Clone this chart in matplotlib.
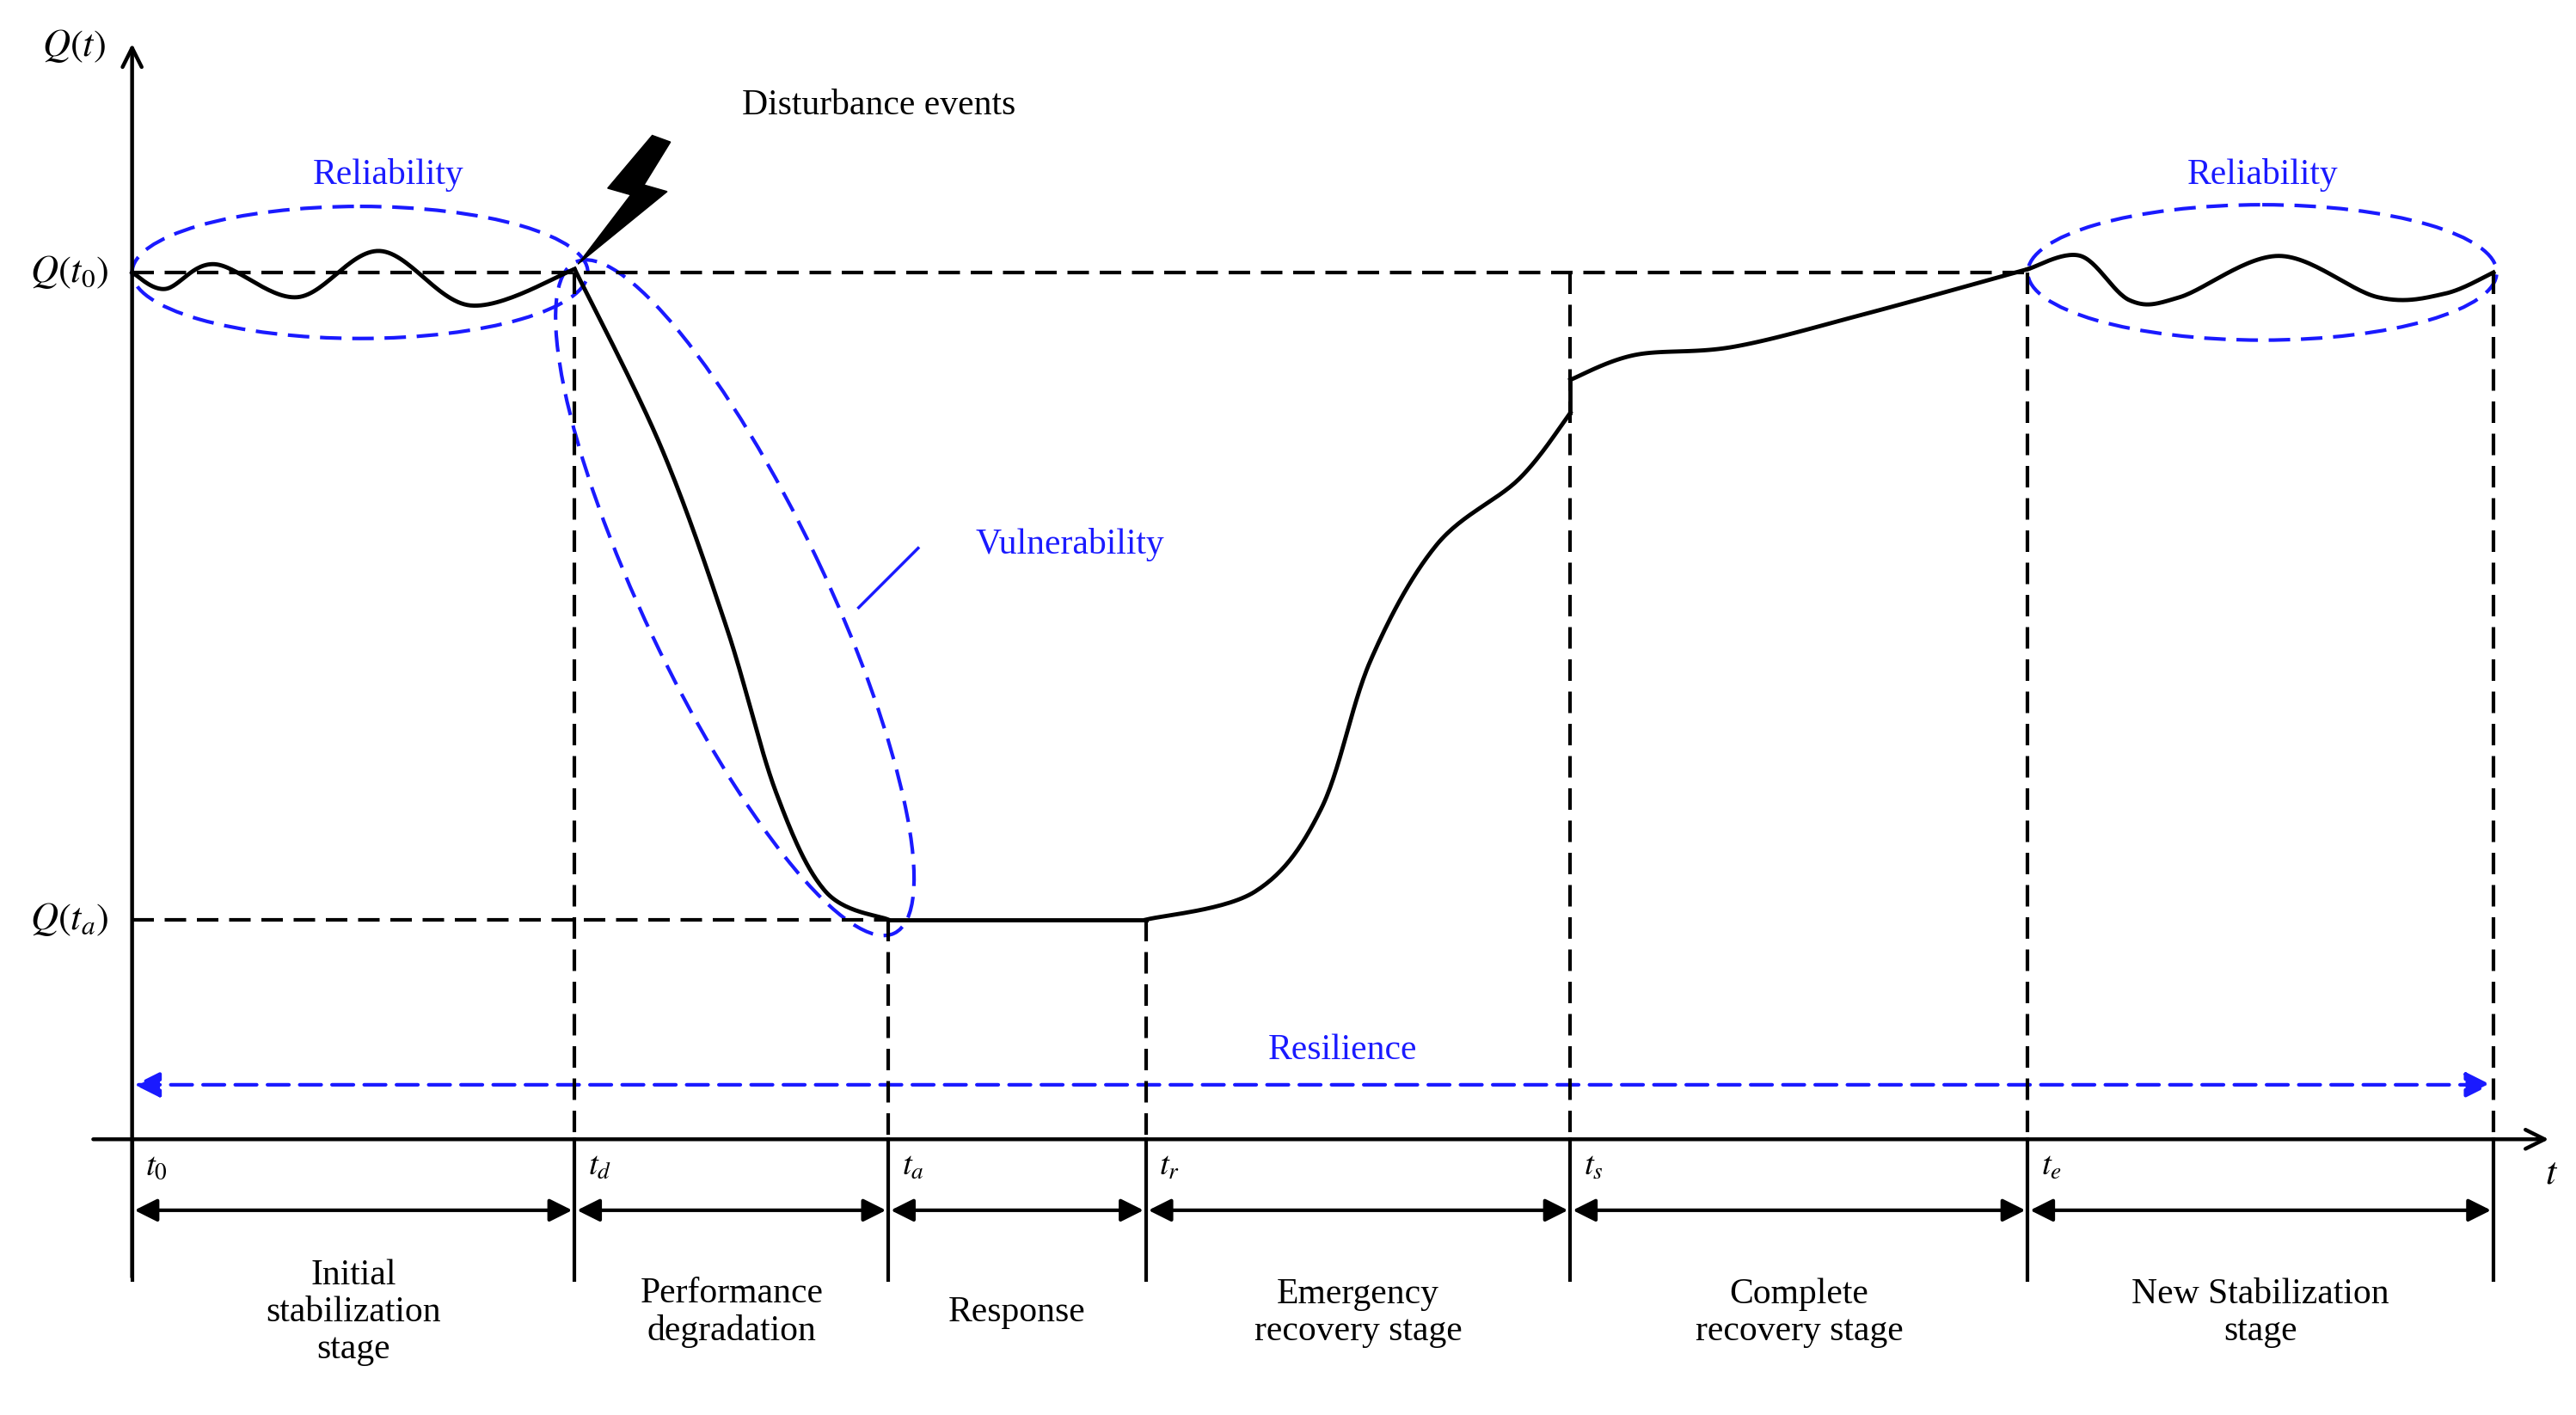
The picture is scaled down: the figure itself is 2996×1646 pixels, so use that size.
import numpy as np
import matplotlib
matplotlib.use("Agg")
import matplotlib.pyplot as plt
from matplotlib.patches import Ellipse, Polygon, FancyArrowPatch

plt.rcParams["mathtext.fontset"] = "stix"
FONT = "Liberation Serif"

# time marks (diagram units)
t_names = ["t_0", "t_d", "t_a", "t_r", "t_s", "t_e"]
t_pos = [80, 348, 538, 694, 951, 1228, 1510]
Q0, Qa = 165, 557
axis_y = 690
stage_labels = ["Initial\nstabilization\nstage", "Performance\ndegradation", "Response",
                "Emergency\nrecovery stage", "Complete\nrecovery stage", "New Stabilization\nstage"]

# performance curve key points
seg1 = [(80,165),(100,175),(130,160),(180,180),(230,152),(285,185),(348,163)]
seg2 = [(348,163),(400,270),(440,380),(470,480),(500,540),(538,557)]
seg3 = [(538,557),(694,557)]
seg4 = [(694,557),(760,540),(800,490),(830,400),(870,330),(920,290),(951,250)]
seg5 = [(951,230),(990,215),(1050,210),(1130,190),(1228,163)]
seg6 = [(1228,163),(1260,155),(1290,182),(1320,180),(1380,155),(1440,180),(1480,178),(1510,165)]

def catmull(pts, n=30):
    p = np.array(pts, float)
    if len(p) < 3:
        return p[:,0], p[:,1]
    p = np.vstack([p[0], p, p[-1]])
    out = []
    for i in range(1, len(p)-2):
        p0, p1, p2, p3 = p[i-1], p[i], p[i+1], p[i+2]
        for t in np.linspace(0, 1, n, endpoint=False):
            out.append(0.5*((2*p1) + (-p0+p2)*t + (2*p0-5*p1+4*p2-p3)*t**2 + (-p0+3*p1-3*p2+p3)*t**3))
    out.append(p[-2])
    out = np.array(out)
    return out[:,0], out[:,1]

fig = plt.figure(figsize=(29.96, 16.46), dpi=100)
ax = fig.add_axes([0, 0, 1, 1])
ax.set_xlim(0, 1560); ax.set_ylim(857, 0); ax.axis("off")

blue = "#1a1aff"
lw = 3.2
# axes
ax.annotate("", xy=(80, 25), xytext=(80, 775), arrowprops=dict(arrowstyle="->", lw=lw, color="k", mutation_scale=40))
ax.annotate("", xy=(1545, axis_y), xytext=(55, axis_y), arrowprops=dict(arrowstyle="->", lw=lw, color="k", mutation_scale=40))
ax.text(45, 28, r"$Q(t)$", fontsize=32, ha="center", va="center")
ax.text(1545, 710, r"$t$", fontsize=32, ha="center", va="center")
ax.text(42, Q0, r"$Q(t_0)$", fontsize=32, ha="center", va="center")
ax.text(42, Qa, r"$Q(t_a)$", fontsize=32, ha="center", va="center")

dash = dict(color="k", lw=3, ls=(0, (6, 3)))
ax.plot([80, 1228], [Q0, Q0], **dash)
ax.plot([80, 538], [Qa, Qa], **dash)
tops = [None, Q0, Qa, Qa, Q0, Q0, Q0]
for x, top in zip(t_pos[1:], tops[1:]):
    ax.plot([x, x], [top, axis_y], **dash)
for x in t_pos:
    ax.plot([x, x], [axis_y, 775], color="k", lw=3)

for name, x in zip(t_names, t_pos):
    ax.text(x + 8, 706, "$" + name + "$", fontsize=28, ha="left", va="center")

for i in range(6):
    a, b = t_pos[i], t_pos[i+1]
    ax.add_patch(FancyArrowPatch((a, 733), (b, 733), arrowstyle="<|-|>", mutation_scale=40, lw=3, color="k"))
    ax.text((a+b)/2, 795, stage_labels[i], fontsize=30, family=FONT, ha="center", va="center", linespacing=1.15)

# curve
for seg in [seg1, seg2, seg3, seg4, seg5, seg6]:
    x, y = catmull(seg)
    ax.plot(x, y, color="k", lw=3.5)
ax.plot([951, 951], [250, 230], color="k", lw=3.5)

# ellipses
ed = dict(fill=False, ec=blue, lw=3, ls=(0, (6, 3)))
ax.add_patch(Ellipse((218, 165), 276, 80, **ed))
ax.add_patch(Ellipse((1370, 165), 284, 82, **ed))
ax.add_patch(Ellipse((445, 362), 450, 110, angle=64.6, **ed))
ax.plot([520, 556], [368, 332], color=blue, lw=2.5)
ax.text(235, 106, "Reliability", fontsize=30, family=FONT, color=blue, ha="center", va="center")
ax.text(1370, 106, "Reliability", fontsize=30, family=FONT, color=blue, ha="center", va="center")
ax.text(648, 330, "Vulnerability", fontsize=30, family=FONT, color=blue, ha="center", va="center")
ax.text(813, 636, "Resilience", fontsize=30, family=FONT, color=blue, ha="center", va="center")
ax.add_patch(FancyArrowPatch((80, 657), (1510, 657), arrowstyle="<|-|>", mutation_scale=45, lw=3, color=blue, ls=(0, (6, 3))))

# disturbance
ax.add_patch(Polygon([(350, 160), (382, 118), (368, 114), (395, 82), (406, 86), (390, 112), (404, 116)], closed=True, color="k"))
ax.text(532, 64, "Disturbance events", fontsize=30, family=FONT, ha="center", va="center")

fig.savefig("out.png", dpi=100)
